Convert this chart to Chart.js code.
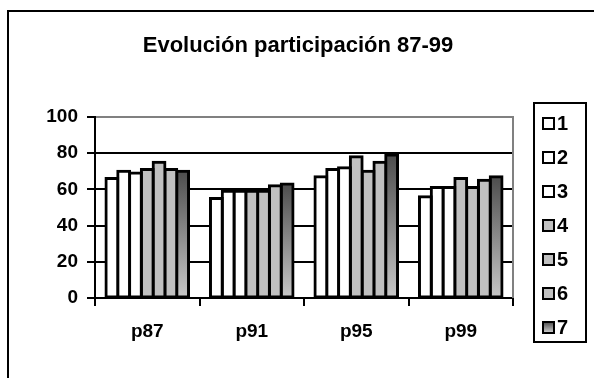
<!DOCTYPE html>
<html>
<head>
<meta charset="utf-8">
<script src="https://cdn.jsdelivr.net/npm/chart.js@4/dist/chart.umd.min.js"></script>
<style>
html,body{margin:0;padding:0;background:#fff;}
canvas{display:block;}
</style>
</head>
<body>
<canvas id="c" width="594" height="378"></canvas>
<script>
const titleText = 'Evolución participación 87-99';
const categories = ['p87', 'p91', 'p95', 'p99'];
const seriesLabels = ['1', '2', '3', '4', '5', '6', '7'];
const s1 = [66, 55, 67, 56];
const s2 = [70, 59, 71, 61];
const s3 = [69, 59, 72, 61];
const s4 = [71, 59, 78, 66];
const s5 = [75, 59, 70, 61];
const s6 = [71, 62, 75, 65];
const s7 = [70, 63, 79, 67];
const yTicks = [0, 20, 40, 60, 80, 100];

const FONT = "'Liberation Sans', Arial, sans-serif";
const WHITE = '#ffffff';
const SILVER = '#c0c0c0';

function gradFill(c) {
  const chart = c.chart;
  const area = chart.chartArea;
  if (!area || c.raw === undefined) return '#909090';
  const y = chart.scales.y;
  const top = y.getPixelForValue(c.raw);
  const bot = y.getPixelForValue(0);
  const g = chart.ctx.createLinearGradient(0, top, 0, bot);
  g.addColorStop(0, '#4d4d4d');
  g.addColorStop(1, '#c8c8c8');
  return g;
}

const seriesData = [s1, s2, s3, s4, s5, s6, s7];
const fills = [WHITE, WHITE, WHITE, SILVER, SILVER, SILVER, gradFill];

const datasets = seriesData.map((d, i) => ({
  label: seriesLabels[i],
  data: d,
  backgroundColor: fills[i],
  borderColor: '#000',
  borderWidth: 3,
  inflateAmount: 1.5,
  borderSkipped: false,
  categoryPercentage: 0.79,
  barPercentage: 1.0
}));

const decor = {
  id: 'decor',
  beforeDatasetsDraw(chart) {
    const ctx = chart.ctx, a = chart.chartArea;
    ctx.save();
    ctx.strokeStyle = '#808080';
    ctx.lineWidth = 2;
    ctx.beginPath();
    ctx.moveTo(a.right, a.top - 1);
    ctx.lineTo(a.right, a.bottom);
    ctx.stroke();
    ctx.restore();
  },
  afterDraw(chart) {
    const ctx = chart.ctx;
    ctx.save();
    // outer frame
    ctx.strokeStyle = '#000';
    ctx.lineWidth = 2;
    ctx.beginPath();
    ctx.moveTo(8, 380);
    ctx.lineTo(8, 11);
    ctx.lineTo(600, 11);
    ctx.stroke();
    // title
    ctx.fillStyle = '#000';
    ctx.font = 'bold 22px ' + FONT;
    ctx.textAlign = 'center';
    ctx.textBaseline = 'middle';
    ctx.fillText(titleText, 298, 46);
    // legend box
    ctx.lineWidth = 2;
    ctx.strokeRect(534, 103, 52, 239);
    ctx.font = 'bold 20px ' + FONT;
    ctx.textAlign = 'left';
    chart.data.datasets.forEach((ds, i) => {
      const cy = 123 + i * 34;
      let fill = ds.backgroundColor;
      if (typeof fill === 'function') {
        const g = ctx.createLinearGradient(0, cy - 5, 0, cy + 5);
        g.addColorStop(0, '#4d4d4d');
        g.addColorStop(1, '#c8c8c8');
        fill = g;
      }
      ctx.fillStyle = fill;
      ctx.fillRect(543, cy - 5, 11, 11);
      ctx.lineWidth = 2;
      ctx.strokeStyle = '#000';
      ctx.strokeRect(543, cy - 5, 11, 11);
      ctx.fillStyle = '#000';
      ctx.fillText(ds.label, 557, cy + 1);
    });
    ctx.restore();
  }
};

new Chart(document.getElementById('c'), {
  type: 'bar',
  data: { labels: categories, datasets: datasets },
  options: {
    responsive: false,
    animation: false,
    devicePixelRatio: 1,
    layout: { padding: { top: 117, left: 0, right: 81, bottom: 0 } },
    plugins: {
      legend: { display: false },
      title: { display: false },
      tooltip: { enabled: false }
    },
    scales: {
      x: {
        offset: true,
        grid: { display: true, drawOnChartArea: false, drawTicks: true, tickLength: 8, color: '#000', lineWidth: 2 },
        border: { display: true, color: '#000', width: 2 },
        ticks: { color: '#000', padding: 14, font: { family: FONT, size: 19, weight: 'bold' } },
        afterFit(s) { s.height = 80; }
      },
      y: {
        min: 0,
        max: 100,
        afterBuildTicks(s) { s.ticks = yTicks.map(v => ({ value: v })); },
        grid: {
          color: c => (c.tick && c.tick.value === 100) ? '#808080' : '#000',
          tickColor: '#000',
          lineWidth: 2,
          tickLength: 8,
          drawTicks: true
        },
        border: { display: true, color: '#000', width: 2 },
        ticks: { color: '#000', padding: 9, font: { family: FONT, size: 19, weight: 'bold' } },
        afterFit(s) { s.width = 95; }
      }
    }
  },
  plugins: [decor]
});
</script>
</body>
</html>
